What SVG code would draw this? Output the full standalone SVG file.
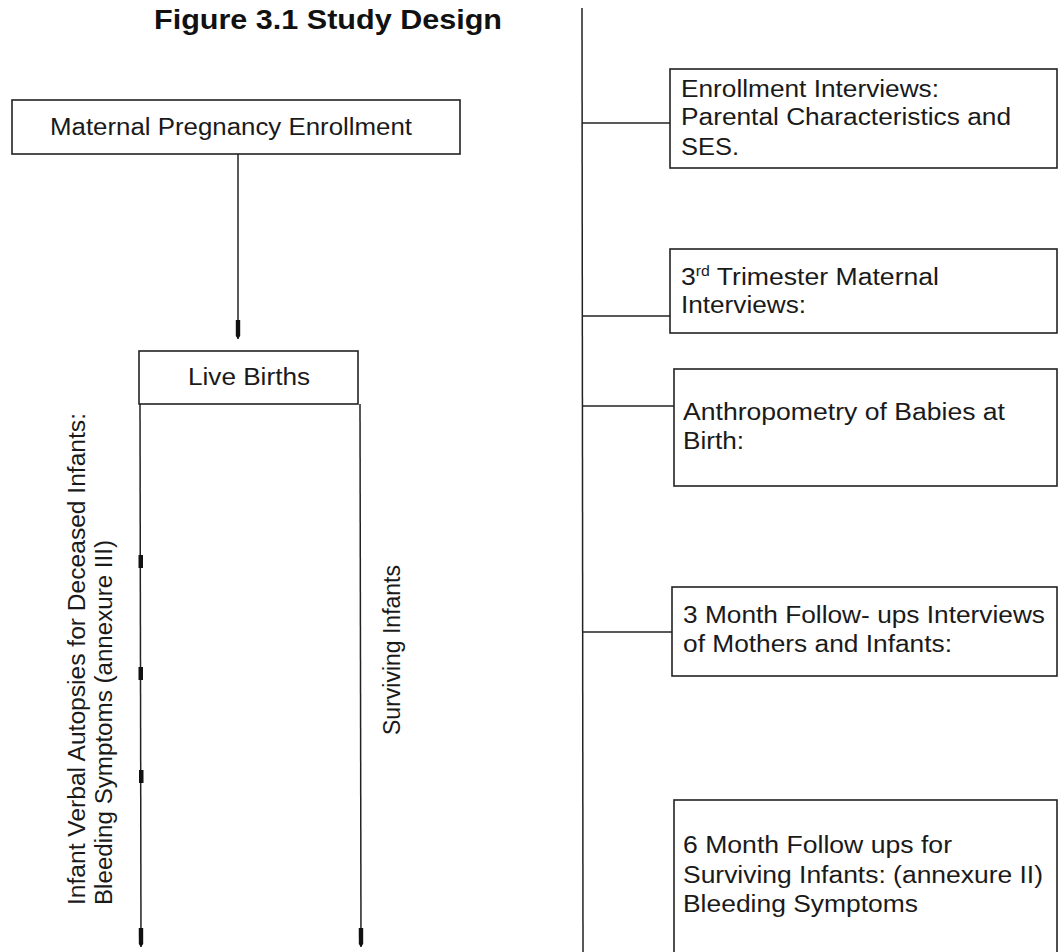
<svg xmlns="http://www.w3.org/2000/svg" width="1059" height="952" viewBox="0 0 1059 952">
<style>
.box{fill:#fff;stroke:#222;stroke-width:1.6}
.ln{stroke:#222;stroke-width:1.5;fill:none}
.t{font-family:"Liberation Sans",Arial,sans-serif;font-size:23.5px;fill:#1a1a1a}
.title{font-family:"Liberation Sans",Arial,sans-serif;font-size:27px;font-weight:bold;fill:#111}
.head{fill:#111}
</style>
<defs>
<marker id="ah" viewBox="0 -3 20 6" markerWidth="20" markerHeight="6" refX="19" refY="0" orient="auto" markerUnits="userSpaceOnUse">
<path d="M0,-2.2 L16,-2.2 L19,0 L16,2.2 L0,2.2 Z" class="head"/>
</marker>
</defs>
<rect width="1059" height="952" fill="#fff"/>
<text class="title" x="154" y="29" textLength="348" lengthAdjust="spacingAndGlyphs">Figure 3.1 Study Design</text>

<g id="connectors">
<line class="ln" x1="238" y1="154" x2="238" y2="339" marker-end="url(#ah)"/>
<line class="ln" x1="140" y1="404" x2="141" y2="947" marker-end="url(#ah)"/>
<line class="ln" x1="360" y1="404" x2="361" y2="947" marker-end="url(#ah)"/>
<rect class="head" x="138.5" y="555" width="4.5" height="13"/>
<rect class="head" x="138.5" y="667" width="4.5" height="13"/>
<rect class="head" x="139" y="770" width="4.5" height="13"/>
<line class="ln" x1="582" y1="8" x2="583" y2="952"/>
<line class="ln" x1="582" y1="123" x2="670" y2="123"/>
<line class="ln" x1="582" y1="316" x2="670" y2="316"/>
<line class="ln" x1="582" y1="406" x2="674" y2="406"/>
<line class="ln" x1="583" y1="632" x2="672" y2="632"/>
</g>

<g id="maternal-enrollment">
<rect class="box" x="12" y="100" width="448" height="54"/>
<text class="t" x="50" y="135" textLength="362" lengthAdjust="spacingAndGlyphs">Maternal Pregnancy Enrollment</text>
</g>

<g id="live-births">
<rect class="box" x="139" y="351" width="219" height="53"/>
<text class="t" x="188" y="385" textLength="122" lengthAdjust="spacingAndGlyphs">Live Births</text>
</g>

<g id="deceased-infants">
<text class="t" transform="translate(85,905) rotate(-90)" textLength="492" lengthAdjust="spacingAndGlyphs">Infant Verbal Autopsies for Deceased Infants:</text>
<text class="t" transform="translate(112,905) rotate(-90)" textLength="365" lengthAdjust="spacingAndGlyphs">Bleeding Symptoms (annexure III)</text>
</g>

<g id="surviving-infants">
<text class="t" transform="translate(400,735) rotate(-90)" textLength="170" lengthAdjust="spacingAndGlyphs">Surviving Infants</text>
</g>

<g id="enrollment-interviews">
<rect class="box" x="670" y="69" width="387" height="99"/>
<text class="t" x="681" y="97" textLength="258" lengthAdjust="spacingAndGlyphs">Enrollment Interviews:</text>
<text class="t" x="681" y="125" textLength="330" lengthAdjust="spacingAndGlyphs">Parental Characteristics and</text>
<text class="t" x="681" y="155" textLength="58" lengthAdjust="spacingAndGlyphs">SES.</text>
</g>

<g id="trimester-interviews">
<rect class="box" x="670" y="249" width="387" height="84"/>
<text class="t" x="681" y="285" textLength="258" lengthAdjust="spacingAndGlyphs">3<tspan font-size="14" dy="-9">rd</tspan><tspan dy="9"> Trimester Maternal</tspan></text>
<text class="t" x="681" y="313" textLength="125" lengthAdjust="spacingAndGlyphs">Interviews:</text>
</g>

<g id="anthropometry">
<rect class="box" x="674" y="369" width="383" height="117"/>
<text class="t" x="683" y="420" textLength="322" lengthAdjust="spacingAndGlyphs">Anthropometry of Babies at</text>
<text class="t" x="683" y="449" textLength="61" lengthAdjust="spacingAndGlyphs">Birth:</text>
</g>

<g id="three-month">
<rect class="box" x="672" y="587" width="385" height="89"/>
<text class="t" x="683" y="623" textLength="362" lengthAdjust="spacingAndGlyphs">3 Month Follow- ups Interviews</text>
<text class="t" x="683" y="652" textLength="269" lengthAdjust="spacingAndGlyphs">of Mothers and Infants:</text>
</g>

<g id="six-month">
<rect class="box" x="674" y="800" width="383" height="160"/>
<text class="t" x="683" y="853" textLength="269" lengthAdjust="spacingAndGlyphs">6 Month Follow ups for</text>
<text class="t" x="683" y="883" textLength="360" lengthAdjust="spacingAndGlyphs">Surviving Infants: (annexure II)</text>
<text class="t" x="683" y="912" textLength="235" lengthAdjust="spacingAndGlyphs">Bleeding Symptoms</text>
</g>
</svg>
